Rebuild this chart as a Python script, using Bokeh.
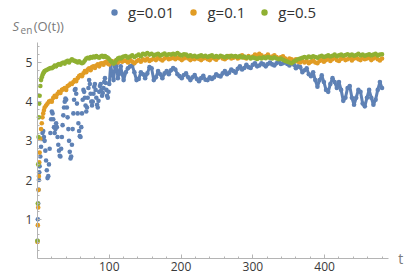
from bokeh.plotting import figure
from bokeh.models import ColumnDataSource, FixedTicker, Label, Legend, LegendItem, Range1d, LinearAxis
from bokeh.embed import file_html
from bokeh.resources import INLINE

# ---- data ----
t_early = [0, 0.5, 1, 1.5, 2, 2.5, 3, 4, 5, 6, 7, 8, 9]
t_mid = list(range(10, 121, 2))
t_late = list(range(123, 481, 3))
t_blue_fine = list(range(10, 101))
t_blue_mid = list(range(102, 121, 2))

t_g001 = t_early + t_blue_fine + t_blue_mid + t_late
t_g01 = t_early + t_mid + t_late
t_g05 = t_early + t_mid + t_late

g001_early = [0.45, 1.0, 1.4, 1.75, 2.0, 2.2, 2.35, 2.6, 2.85, 3.05, 3.2, 3.25, 3.1]
g001_fine = [3.0, 2.75, 2.5, 2.25, 2.05, 2.1, 2.4, 2.8, 3.2, 3.55,
             3.75, 3.7, 3.55, 3.35, 3.2, 3.3, 3.45, 3.35, 3.1, 2.9,
             2.75, 2.62, 2.6, 2.8, 3.1, 3.4, 3.65, 3.85, 4.0, 4.08,
             4.05, 3.85, 3.6, 3.3, 3.0, 2.72, 2.55, 2.6, 2.9, 3.3,
             3.7, 4.05, 4.3, 4.32, 4.2, 3.95, 3.7, 3.45, 3.25, 3.12,
             3.1, 3.35, 3.7, 4.05, 4.3, 4.25, 4.1, 3.9, 3.75, 3.85,
             4.1, 4.35, 4.55, 4.45, 4.2, 4.0, 3.9, 4.0, 4.2, 4.38,
             4.45, 4.3, 4.1, 3.92, 3.85, 4.02, 4.25, 4.4, 4.45, 4.3,
             4.15, 4.22, 4.35, 4.5, 4.6, 4.48, 4.3, 4.15, 4.1, 4.25,
             4.45]
g001_mid = [4.95, 4.7, 4.55, 4.9, 4.95, 4.6, 4.75, 4.9, 4.7, 4.55]
g001_late = [4.75, 4.85, 4.9,
             4.92, 4.75, 4.55, 4.58, 4.75, 4.7, 4.6, 4.72, 4.88, 4.85,
             4.55, 4.62, 4.78, 4.7, 4.6, 4.72, 4.78, 4.7, 4.8, 4.86,
             4.82, 4.7, 4.65, 4.6, 4.68, 4.72, 4.62, 4.55, 4.62, 4.68,
             4.58, 4.52, 4.6, 4.66, 4.56, 4.55, 4.62, 4.58, 4.62, 4.7,
             4.66, 4.64, 4.72, 4.78, 4.7, 4.74, 4.82, 4.78, 4.74, 4.84,
             4.9, 4.82, 4.86, 4.94, 4.88, 4.86, 4.94, 4.98, 4.9, 4.92,
             4.98, 4.95, 4.9, 4.96, 5.0, 4.95, 4.92, 4.98, 5.02, 4.96,
             4.98, 5.02, 4.96, 4.92, 5.0, 4.95, 4.85, 4.9, 4.88, 4.75,
             4.8, 4.85, 4.7, 4.65, 4.75, 4.55, 4.38, 4.55, 4.67, 4.5,
             4.3, 4.25, 4.45, 4.6, 4.5, 4.35, 4.5, 4.3, 4.02, 4.1,
             4.35, 4.4, 4.1, 3.92, 4.1, 4.3, 4.25, 3.95, 3.88, 4.1,
             4.3, 4.1, 3.92, 4.05, 4.3, 4.5, 4.35]

g01_early = [0.42, 0.85, 1.3, 1.75, 2.1, 2.45, 2.7, 3.05, 3.3, 3.45, 3.6, 3.7, 3.78]
g01_mid = [3.85, 3.9, 3.95, 4.0, 4.02,
           4.0, 4.1, 4.15, 4.12, 4.2,
           4.25, 4.22, 4.3, 4.32, 4.35,
           4.3, 4.4, 4.42, 4.46, 4.45,
           4.5, 4.55, 4.52, 4.6, 4.65,
           4.68, 4.65, 4.72, 4.78, 4.75,
           4.82, 4.85, 4.8, 4.88, 4.9,
           4.86, 4.92, 4.95, 4.9, 4.97,
           4.98, 4.94, 5.0, 5.02, 4.97,
           4.95, 5.0, 5.03, 4.98, 5.02,
           5.05, 5.0, 5.04, 5.08, 5.02,
           5.05]
g01_late = [5.04, 5.0, 5.06,
            5.02, 4.98, 5.03, 5.06, 5.02, 5.08, 5.05, 5.1, 5.04, 5.07,
            5.1, 5.06, 5.12, 5.08, 5.05, 5.1, 5.14, 5.08, 5.1, 5.12,
            5.08, 5.12, 5.1, 5.06, 5.1, 5.14, 5.1, 5.06, 5.1, 5.08,
            5.12, 5.09, 5.06, 5.1, 5.13, 5.08, 5.06, 5.12, 5.1, 5.07,
            5.12, 5.15, 5.1, 5.08, 5.12, 5.16, 5.1, 5.12, 5.15, 5.1,
            5.13, 5.18, 5.12, 5.1, 5.16, 5.12, 5.15, 5.2, 5.16, 5.22,
            5.18, 5.14, 5.16, 5.2, 5.12, 5.15, 5.18, 5.14, 5.1, 5.13,
            5.16, 5.1, 5.06, 5.1, 5.08, 5.04, 5.08, 5.02, 5.0, 5.04,
            5.0, 5.04, 4.98, 5.02, 5.05, 5.0, 4.98, 5.04, 5.06, 5.02,
            5.06, 5.1, 5.04, 5.08, 5.12, 5.06, 5.04, 5.09, 5.12, 5.06,
            5.08, 5.12, 5.05, 5.1, 5.14, 5.08, 5.06, 5.12, 5.08, 5.1,
            5.12, 5.06, 5.1, 5.14, 5.08, 5.05, 5.1]

g05_early = [0.45, 1.4, 2.4, 3.1, 3.6, 3.95, 4.15, 4.4, 4.55, 4.62, 4.68, 4.72, 4.75]
g05_mid = [4.78, 4.8, 4.82, 4.84, 4.86,
           4.85, 4.88, 4.92, 4.9, 4.94,
           4.96, 4.94, 4.98, 5.0, 4.97,
           5.02, 5.04, 5.0, 5.05, 5.08,
           5.05, 5.04, 5.02, 5.0, 5.03,
           5.0, 4.98, 5.0, 5.05, 5.1,
           5.12, 5.1, 5.14, 5.12, 5.15,
           5.13, 5.16, 5.14, 5.12, 5.15,
           5.17, 5.14, 5.16, 5.14, 5.12,
           5.08, 5.04, 5.0, 4.97, 5.0,
           5.06, 5.1, 5.12, 5.1, 5.13,
           5.15]
g05_late = [5.16, 5.12, 5.15,
            5.18, 5.14, 5.17, 5.2, 5.16, 5.22, 5.2, 5.24, 5.2, 5.22,
            5.18, 5.2, 5.22, 5.18, 5.2, 5.23, 5.19, 5.21, 5.2, 5.22,
            5.2, 5.24, 5.2, 5.18, 5.21, 5.2, 5.16, 5.18, 5.15, 5.17,
            5.14, 5.16, 5.18, 5.15, 5.17, 5.14, 5.16, 5.18, 5.14, 5.16,
            5.14, 5.17, 5.15, 5.13, 5.16, 5.14, 5.17, 5.15, 5.16, 5.14,
            5.16, 5.13, 5.15, 5.12, 5.14, 5.1, 5.13, 5.11, 5.09, 5.12,
            5.1, 5.13, 5.11, 5.14, 5.12, 5.1, 5.13, 5.1, 5.08, 5.1,
            5.07, 5.04, 5.02, 5.0, 4.98, 5.02, 5.05, 5.08, 5.1, 5.12,
            5.14, 5.12, 5.15, 5.13, 5.16, 5.14, 5.12, 5.15, 5.17, 5.14,
            5.16, 5.18, 5.15, 5.17, 5.2, 5.16, 5.18, 5.2, 5.17, 5.19,
            5.21, 5.18, 5.2, 5.17, 5.19, 5.22, 5.18, 5.2, 5.17, 5.19,
            5.21, 5.18, 5.2, 5.22, 5.18, 5.2, 5.21]

series_names = ["g=0.01", "g=0.1", "g=0.5"]
series_t = [t_g001, t_g01, t_g05]
series_values = [g001_early + g001_fine + g001_mid + g001_late,
                 g01_early + g01_mid + g01_late,
                 g05_early + g05_mid + g05_late]
# time from which each series forms a continuous band (joined with a line)
band_start = [100, 10, 10]
colors = ["#5E81B5", "#E19C24", "#8FB032"]

x_ticks = [100, 200, 300, 400]
y_ticks = [1, 2, 3, 4, 5]

# ---- figure ----
# The frame covers the whole canvas; the axes cross at the origin (fixed
# locations) so the legend and the captions are drawn inside the frame.
p = figure(width=415, height=276, output_backend="svg", toolbar_location=None,
           x_range=Range1d(-51.5, 526.6), y_range=Range1d(-0.46, 6.58),
           x_axis_location=None, y_axis_location=None,
           min_border_left=0, min_border_right=0, min_border_top=0,
           min_border_bottom=0)
p.grid.visible = False
p.outline_line_color = None
p.background_fill_color = "white"

xaxis = LinearAxis(fixed_location=0, bounds=(0, 489),
                   ticker=FixedTicker(ticks=x_ticks, minor_ticks=[20 * i for i in range(1, 25)]))
yaxis = LinearAxis(fixed_location=0, bounds=(0, 5.5),
                   ticker=FixedTicker(ticks=y_ticks, minor_ticks=[round(0.2 * i, 1) for i in range(1, 28)]))
p.add_layout(xaxis, "below")
p.add_layout(yaxis, "left")

axis_gray = "#b4b4b4"
tick_font = "Open Sans"
for ax in (xaxis, yaxis):
    ax.axis_line_color = axis_gray
    ax.major_tick_line_color = axis_gray
    ax.minor_tick_line_color = axis_gray
    ax.major_tick_in = 4
    ax.major_tick_out = 0
    ax.minor_tick_in = 2
    ax.minor_tick_out = 0
    ax.major_label_text_font = tick_font
    ax.major_label_text_font_size = "12px"
    ax.major_label_text_color = "#3a3a3a"
xaxis.major_label_standoff = 4
yaxis.major_label_standoff = 5

renderers = []
for name, ts, vals, start, col in zip(series_names, series_t, series_values, band_start, colors):
    band = [(a, b) for a, b in zip(ts, vals) if a >= start]
    band_src = ColumnDataSource(data=dict(t=[a for a, _ in band], s=[b for _, b in band]))
    p.line("t", "s", source=band_src, line_width=3, color=col)
    src = ColumnDataSource(data=dict(t=ts, s=vals))
    r = p.scatter("t", "s", source=src, size=4.6, color=col, line_color=None)
    renderers.append((name, r))

legend = Legend(items=[LegendItem(label=n, renderers=[r]) for n, r in renderers],
                orientation="horizontal", location=(106, 254),
                glyph_width=16, glyph_height=16, label_height=16,
                label_standoff=6, spacing=11, padding=0, margin=0,
                border_line_alpha=0, background_fill_alpha=0,
                label_text_font=tick_font, label_text_font_size="15px",
                label_text_color="#333333", label_text_baseline="middle")
p.add_layout(legend)

label_gray = "#7a7a7a"
p.add_layout(Label(x=-34.8, y=5.92, text="S", text_font="Open Sans", text_font_style="italic",
                   text_font_size="13px", text_color=label_gray, text_baseline="middle"))
p.add_layout(Label(x=-23.6, y=5.82, text="en", text_font="Open Sans",
                   text_font_size="10px", text_color=label_gray, text_baseline="middle"))
p.add_layout(Label(x=-5.2, y=5.92, text="(O(t))", text_font="Open Sans",
                   text_font_size="13px", text_color=label_gray, text_baseline="middle"))
p.add_layout(Label(x=506, y=0, text="t", text_font="Open Sans",
                   text_font_size="14px", text_color=label_gray,
                   text_baseline="middle", text_align="center"))

open("out.html", "w").write(file_html(p, INLINE))
